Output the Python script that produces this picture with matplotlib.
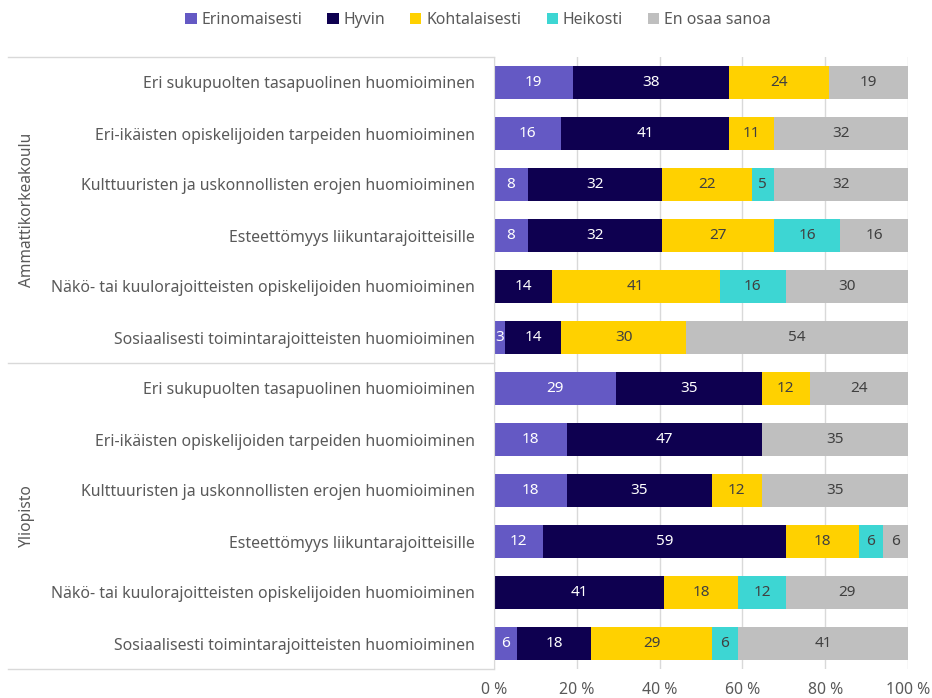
import matplotlib
matplotlib.use("Agg")
import matplotlib.pyplot as plt
import matplotlib.transforms as mtransforms
import numpy as np

plt.rcParams['font.family'] = ['Noto Sans', 'DejaVu Sans']

categories = [
    "Eri sukupuolten tasapuolinen huomioiminen",
    "Eri-ikäisten opiskelijoiden tarpeiden huomioiminen",
    "Kulttuuristen ja uskonnollisten erojen huomioiminen",
    "Esteettömyys liikuntarajoitteisille",
    "Näkö- tai kuulorajoitteisten opiskelijoiden huomioiminen",
    "Sosiaalisesti toimintarajoitteisten huomioiminen",
]
groups = ["Ammattikorkeakoulu", "Yliopisto"]
series_names = ["Erinomaisesti", "Hyvin", "Kohtalaisesti", "Heikosti", "En osaa sanoa"]

# Rows: Ammattikorkeakoulu (6), then Yliopisto (6)
erinomaisesti = [19.0, 16.1, 8.1, 8.1, 0.3, 2.7, 29.4, 17.7, 17.7, 11.9, 0.3, 5.6]
hyvin         = [37.8, 40.7, 32.4, 32.4, 13.6, 13.6, 35.3, 47.0, 34.9, 58.6, 40.8, 17.8]
kohtalaisesti = [24.1, 10.8, 21.7, 27.1, 40.6, 30.0, 11.6, 0.0, 12.1, 17.6, 17.9, 29.3]
heikosti      = [0.0, 0.0, 5.4, 16.0, 16.0, 0.0, 0.0, 0.0, 0.0, 5.9, 11.6, 6.2]
en_osaa       = [19.1, 32.4, 32.4, 16.4, 29.5, 53.7, 23.7, 35.3, 35.3, 6.0, 29.4, 41.1]

x_ticks = [0, 20, 40, 60, 80, 100]
x_tick_labels = ["0 %", "20 %", "40 %", "60 %", "80 %", "100 %"]

colors = ["#6459C4", "#0E0050", "#FFD100", "#3DD6D3", "#BFBFBF"]
text_colors = ["white", "white", "#404040", "#404040", "#404040"]
label_gray = "#595959"

fig = plt.figure(figsize=(9.32, 6.98), dpi=100)
ax = fig.add_axes([494/932, 1-669/698, 414/932, 612/698])

series = [erinomaisesti, hyvin, kohtalaisesti, heikosti, en_osaa]
row_labels = categories + categories
n = len(row_labels)
y = np.arange(n)
left = np.zeros(n)
for name, vals, c, tc in zip(series_names, series, colors, text_colors):
    vals = np.array(vals)
    ax.barh(y, vals, left=left, height=0.65, color=c, label=name, zorder=3)
    for yi, l, v in zip(y, left, vals):
        if v >= 1:
            ax.text(l + v/2, yi, f"{int(v + 0.5):d}", ha='center', va='center',
                    color=tc, fontsize=11, zorder=4)
    left += vals

ax.set_xlim(0, 100)
ax.set_ylim(n - 0.5, -0.5)
ax.set_yticks(y)
ax.set_yticklabels(row_labels, color=label_gray, fontsize=11.4)
ax.set_xticks(x_ticks)
ax.set_xticklabels(x_tick_labels, color=label_gray, fontsize=11.4)
ax.tick_params(axis='y', length=0, pad=14)
ax.tick_params(axis='x', length=0, pad=9)
ax.grid(axis='x', color='#D9D9D9', linewidth=1, zorder=0)
for s in ['top', 'right', 'bottom']:
    ax.spines[s].set_visible(False)
ax.spines['left'].set_color('#D9D9D9')
ax.spines['left'].set_zorder(5)

# group separators
trans = mtransforms.blended_transform_factory(ax.transAxes, ax.transData)
x0 = (8 - 494) / 414
for yy in [-0.5, 5.5, 11.5]:
    ax.plot([x0, 0], [yy, yy], transform=trans, color='#D9D9D9', lw=1, clip_on=False)
for gi, g in enumerate(groups):
    ax.text((27 - 494) / 414, gi*6 + 2.5, g, transform=trans, rotation=90,
            ha='center', va='center', color=label_gray, fontsize=11.2)

handles, labels = ax.get_legend_handles_labels()
fig.legend(handles, labels, loc='center', bbox_to_anchor=(478/932, 1-20/698), ncol=5,
           frameon=False, fontsize=11.4, handlelength=0.7, handleheight=0.7,
           handletextpad=0.3, columnspacing=1.6, labelcolor=label_gray)

fig.savefig("out.png", dpi=100)
